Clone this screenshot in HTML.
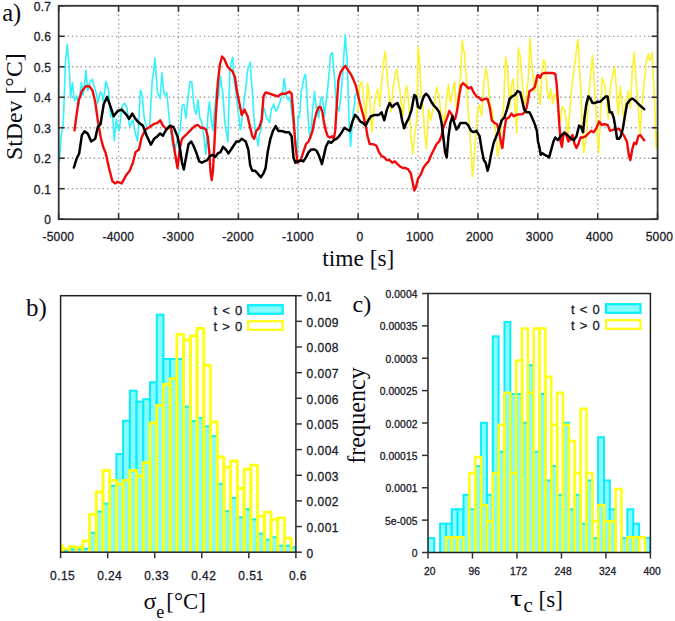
<!DOCTYPE html>
<html><head><meta charset="utf-8"><style>
html,body{margin:0;padding:0;background:#fff;}
body{width:675px;height:621px;overflow:hidden;}
svg{display:block;}
</style></head><body>
<svg width="675" height="621" viewBox="0 0 675 621">
<rect width="675" height="621" fill="#fff"/>
<line x1="118.59" y1="5.80" x2="118.59" y2="219.20" stroke="#969696" stroke-width="1.3" stroke-dasharray="1.3 3.1"/>
<line x1="178.48" y1="5.80" x2="178.48" y2="219.20" stroke="#969696" stroke-width="1.3" stroke-dasharray="1.3 3.1"/>
<line x1="238.37" y1="5.80" x2="238.37" y2="219.20" stroke="#969696" stroke-width="1.3" stroke-dasharray="1.3 3.1"/>
<line x1="298.26" y1="5.80" x2="298.26" y2="219.20" stroke="#969696" stroke-width="1.3" stroke-dasharray="1.3 3.1"/>
<line x1="358.15" y1="5.80" x2="358.15" y2="219.20" stroke="#969696" stroke-width="1.3" stroke-dasharray="1.3 3.1"/>
<line x1="418.04" y1="5.80" x2="418.04" y2="219.20" stroke="#969696" stroke-width="1.3" stroke-dasharray="1.3 3.1"/>
<line x1="477.93" y1="5.80" x2="477.93" y2="219.20" stroke="#969696" stroke-width="1.3" stroke-dasharray="1.3 3.1"/>
<line x1="537.82" y1="5.80" x2="537.82" y2="219.20" stroke="#969696" stroke-width="1.3" stroke-dasharray="1.3 3.1"/>
<line x1="597.71" y1="5.80" x2="597.71" y2="219.20" stroke="#969696" stroke-width="1.3" stroke-dasharray="1.3 3.1"/>
<line x1="58.70" y1="188.71" x2="657.60" y2="188.71" stroke="#969696" stroke-width="1.3" stroke-dasharray="1.3 3.1"/>
<line x1="58.70" y1="158.23" x2="657.60" y2="158.23" stroke="#969696" stroke-width="1.3" stroke-dasharray="1.3 3.1"/>
<line x1="58.70" y1="127.74" x2="657.60" y2="127.74" stroke="#969696" stroke-width="1.3" stroke-dasharray="1.3 3.1"/>
<line x1="58.70" y1="97.26" x2="657.60" y2="97.26" stroke="#969696" stroke-width="1.3" stroke-dasharray="1.3 3.1"/>
<line x1="58.70" y1="66.77" x2="657.60" y2="66.77" stroke="#969696" stroke-width="1.3" stroke-dasharray="1.3 3.1"/>
<line x1="58.70" y1="36.29" x2="657.60" y2="36.29" stroke="#969696" stroke-width="1.3" stroke-dasharray="1.3 3.1"/>
<clipPath id="ca"><rect x="58.7" y="5.8" width="598.9" height="213.39999999999998"/></clipPath>
<g clip-path="url(#ca)">
<polyline points="58.0,158.5 59.3,161.6 60.3,149.3 61.2,135.1 62.2,129.5 63.3,122.7 64.4,93.1 65.4,63.1 66.4,52.4 67.3,44.4 68.2,57.0 69.1,64.2 70.7,97.5 71.7,87.5 72.6,82.9 73.5,93.4 74.5,100.5 75.5,99.7 76.6,95.5 77.6,98.3 78.7,104.9 80.0,93.9 81.4,82.4 82.3,87.9 83.2,95.1 84.5,84.1 85.9,70.4 86.8,80.5 87.7,90.8 88.8,87.1 89.9,81.9 91.2,80.6 92.5,79.2 93.8,85.6 95.2,90.1 96.5,94.3 97.8,103.2 99.1,96.6 100.5,91.7 101.8,93.7 103.1,101.2 104.5,92.6 105.8,81.4 107.1,85.0 108.4,89.4 109.5,102.6 110.6,116.9 111.5,112.0 112.4,111.1 113.3,126.3 114.3,140.6 115.3,129.9 116.4,119.3 117.7,125.8 119.1,130.9 120.4,120.6 121.7,107.6 123.0,104.5 124.4,103.0 125.7,105.3 127.0,108.2 128.3,117.8 129.7,126.5 130.7,124.6 131.8,121.5 132.9,120.0 133.9,125.6 135.0,132.1 136.3,136.3 137.6,141.0 139.0,116.9 140.3,90.3 141.4,92.4 142.4,97.3 143.3,109.1 144.3,118.0 145.6,123.8 146.9,129.4 148.3,128.2 149.6,127.7 150.9,104.2 152.2,80.6 153.6,71.4 154.9,58.0 156.2,75.2 157.5,93.0 158.9,95.4 160.2,98.8 161.1,84.7 162.1,72.7 163.1,86.4 164.2,94.2 165.5,95.0 166.8,92.5 168.2,107.4 169.5,121.3 170.8,132.2 172.1,141.6 173.5,147.1 174.8,151.8 175.9,144.9 176.9,143.1 178.0,136.5 179.1,132.2 180.1,130.9 181.1,118.9 182.0,106.4 182.9,105.0 183.8,104.5 184.9,111.5 186.0,118.1 187.0,108.1 188.1,96.9 189.0,89.9 189.9,81.7 190.9,82.1 191.8,82.0 192.9,93.7 193.9,105.6 195.0,111.0 196.1,113.9 197.0,108.5 197.9,99.8 198.8,107.8 199.8,118.1 200.8,119.4 201.9,124.0 203.0,129.8 204.0,137.1 204.9,147.4 205.9,154.1 206.8,135.6 207.7,118.8 209.3,101.8 210.3,109.5 211.2,119.3 212.1,126.5 213.0,130.7 214.6,108.9 215.6,100.2 216.5,89.0 217.4,94.5 218.4,98.7 219.4,87.0 220.5,76.1 221.5,86.2 222.6,91.1 223.5,103.0 224.5,118.1 225.4,127.0 226.3,131.4 227.9,142.0 228.8,106.8 229.8,73.4 231.1,63.0 232.7,57.4 234.3,81.2 235.3,88.6 236.4,95.1 237.5,106.4 238.5,113.6 239.5,121.7 240.4,129.7 241.3,124.9 242.2,117.1 243.3,108.6 244.4,98.2 245.4,91.6 246.5,81.2 247.4,72.9 248.3,66.6 249.3,65.5 250.2,62.3 251.3,78.7 252.3,90.2 253.3,107.6 254.2,121.3 255.2,129.2 256.3,137.8 257.2,139.3 258.2,145.8 259.2,135.5 260.3,132.3 261.4,124.9 262.4,115.3 263.3,109.5 264.3,108.6 265.6,114.4 266.9,118.5 268.3,120.3 269.6,122.4 270.5,115.6 271.4,108.3 272.5,107.8 273.6,104.0 274.6,107.0 275.7,110.6 277.0,110.4 278.3,106.1 279.7,103.0 281.0,98.3 282.1,94.5 283.1,88.4 284.2,78.3 285.5,88.4 286.8,98.3 288.2,99.8 289.5,97.6 290.6,103.6 291.6,111.0 292.9,121.0 294.3,129.7 295.3,139.0 296.4,145.2 297.5,156.5 298.0,115.8 299.3,117.5 300.3,106.5 301.2,89.9 302.2,88.1 303.3,81.3 304.4,76.3 305.4,74.3 306.4,85.8 307.3,102.8 308.2,116.7 309.1,132.4 310.7,138.3 311.7,123.5 312.6,108.7 313.5,102.0 314.5,91.5 315.5,101.0 316.6,108.7 317.6,110.7 318.7,117.8 319.6,107.9 320.6,99.6 321.5,97.1 322.4,98.0 323.5,106.9 324.5,116.4 325.6,105.0 326.7,96.9 327.6,89.6 328.5,79.9 329.5,68.8 330.4,55.3 331.4,53.4 332.5,52.9 333.6,67.6 334.6,78.1 335.6,94.3 336.5,106.8 337.8,107.3 339.1,110.9 340.5,99.1 341.8,83.6 342.7,73.2 343.7,57.4 345.3,34.9 346.2,49.6 347.1,57.2 348.0,87.3 349.0,119.8 350.6,146.5 351.5,133.2 352.4,121.4 353.3,112.5 354.3,105.4 355.3,95.9 356.4,92.9 357.5,94.5 358.5,99.0" fill="none" stroke="#30f2fc" stroke-width="1.6" stroke-linejoin="round" stroke-linecap="round"/>
<polyline points="357.7,111.6 358.7,101.0 359.6,86.5 360.6,82.6 361.7,81.9 362.8,90.8 363.8,99.8 364.8,108.8 365.7,120.7 366.6,102.1 367.6,83.4 368.6,89.6 369.7,98.7 370.7,114.5 371.8,131.9 372.7,122.4 373.7,111.6 374.6,103.2 375.5,96.1 376.6,92.7 377.6,89.0 378.7,96.9 379.8,106.8 380.7,94.2 381.6,82.6 382.6,74.2 383.5,62.0 385.1,51.5 386.0,60.7 386.9,70.4 387.9,83.7 388.8,94.8 389.9,103.0 390.9,111.8 392.0,99.8 393.0,87.0 394.0,83.5 394.9,76.4 395.8,72.2 396.8,69.0 397.8,76.3 398.9,84.4 399.9,90.4 401.0,101.1 401.9,110.3 402.9,116.1 403.8,106.8 404.7,94.7 405.8,89.6 406.8,85.9 407.9,95.0 409.0,106.2 409.9,120.3 410.8,137.6 411.8,143.5 412.7,153.8 413.7,144.6 414.8,133.4 415.9,125.9 416.9,119.5 418.0,46.9 419.3,56.5 420.3,75.2 421.2,95.6 422.8,107.9 423.7,118.8 424.6,135.3 425.6,139.1 426.5,148.6 427.6,126.1 428.6,109.0 429.7,114.5 430.7,120.3 431.7,115.0 432.6,110.3 433.5,108.7 434.5,106.2 435.5,95.7 436.6,87.1 437.6,92.3 438.7,94.3 439.6,99.8 440.6,111.0 441.5,113.3 442.4,116.7 443.5,117.6 444.5,124.0 445.6,107.7 446.7,97.0 447.6,90.1 448.5,84.5 449.5,96.7 450.4,102.6 451.4,97.8 452.5,92.6 453.6,86.0 454.6,81.8 455.6,98.0 456.5,109.3 457.4,104.0 458.4,94.3 459.4,86.5 460.5,76.3 461.4,60.6 462.3,40.1 463.4,49.9 464.5,51.8 465.4,66.8 466.3,75.7 467.9,105.9 468.8,120.3 469.8,129.4 471.1,150.7 472.4,176.8 473.3,167.5 474.3,158.1 475.9,133.0 476.8,120.1 477.7,110.3 478.7,107.6 479.6,104.8 480.6,112.0 481.7,115.9 482.8,101.0 483.8,83.7 484.8,76.2 485.7,68.3 486.6,72.2 487.6,76.9 488.6,88.2 489.7,100.6 490.7,105.2 491.8,109.5 492.7,115.1 493.7,123.6 494.6,126.1 495.5,129.1 496.6,142.6 497.6,156.4 498.7,149.1 499.8,147.2 500.7,134.4 501.6,123.0 502.6,113.4 503.5,109.0 504.5,80.7 505.6,57.0 506.7,64.2 507.7,70.4 508.7,91.3 509.6,108.1 510.5,97.1 511.4,86.3 513.0,78.9 514.0,90.6 514.9,104.9 515.8,117.6 516.8,133.0 518.3,47.8 519.3,53.4 520.2,55.4 521.1,68.2 522.1,79.3 523.1,92.8 524.2,104.9 525.2,101.7 526.3,97.3 527.2,87.3 528.2,80.1 529.1,60.6 530.0,38.4 531.1,51.8 532.1,66.8 533.2,77.4 534.3,92.0 535.2,83.3 536.1,76.0 537.1,83.0 538.0,89.9 539.1,96.4 540.1,104.4 541.1,88.2 542.0,71.6 543.3,59.8 544.4,60.6 545.4,66.3 546.4,79.8 547.3,92.1 548.2,94.7 549.1,99.1 550.7,88.8 551.7,94.4 552.6,104.0 553.5,100.5 554.5,95.0 555.5,94.6 556.6,97.7 557.6,105.1 558.7,115.0 559.6,119.5 560.6,120.7 561.5,111.4 562.4,106.5 564.0,109.1 564.9,111.5 565.9,118.4 566.8,126.5 567.7,138.0 568.8,125.7 569.9,110.4 570.9,95.6 572.0,85.5 572.9,78.7 573.8,72.4 574.8,63.2 575.7,56.9 576.8,46.7 577.8,39.7 578.9,56.0 579.9,74.4 580.9,91.8 581.8,116.1 582.7,132.2 583.7,152.4 584.7,146.3 585.8,141.3 586.8,126.7 587.9,109.2 588.8,96.0 589.8,84.1 591.1,68.0 592.4,55.4 593.3,66.5 594.3,79.8 595.3,99.9 596.4,118.2 597.5,136.9 598.5,153.3 599.5,135.8 600.4,117.6 601.3,97.1 602.2,77.6 603.3,81.8 604.4,82.1 605.4,91.2 606.5,98.9 607.4,110.3 608.3,118.9 609.3,104.9 610.2,89.9 611.3,82.2 612.3,76.6 613.4,72.4 614.5,66.1 615.4,76.1 616.3,86.5 617.2,102.2 618.2,115.3 619.2,103.1 620.3,86.6 621.4,97.1 622.4,109.2 623.3,113.4 624.3,122.5 625.2,110.4 626.1,99.9 627.2,96.8 628.3,90.6 629.3,99.7 630.4,108.0 631.3,90.2 632.2,71.3 633.2,62.6 634.1,52.0 635.2,66.9 636.2,83.2 637.3,94.7 638.3,109.8 639.3,123.6 640.2,134.7 641.1,117.2 642.1,104.4 643.1,94.7 644.2,82.0 645.2,74.2 646.3,61.7 647.2,58.8 648.2,53.5 649.1,58.7 650.0,60.4 651.1,56.9 652.1,52.3 653.2,74.9 654.3,94.3 655.2,122.0 656.1,148.5 657.1,134.8 658.0,125.6" fill="none" stroke="#fcf230" stroke-width="1.6" stroke-linejoin="round" stroke-linecap="round"/>
<polyline points="74.5,130.3 76.6,114.9 78.7,100.3 81.9,91.1 85.9,86.3 89.3,86.3 92.5,90.5 95.2,101.7 97.8,120.3 100.5,136.2 103.1,146.8 105.8,153.4 109.0,168.0 112.4,181.3 115.1,183.4 117.7,181.8 121.7,183.4 126.5,174.7 129.7,170.7 132.9,162.7 135.5,152.1 139.0,149.5 141.6,137.5 145.6,129.5 149.6,126.9 153.6,124.2 157.5,122.9 160.2,120.3 162.9,125.6 166.8,129.5 170.8,125.6 174.8,152.1 177.5,168.0 180.1,146.8 182.0,138.8 184.6,136.2 187.3,133.5 189.9,130.9 192.6,128.2 195.3,125.6 197.9,125.0 200.6,127.7 203.2,127.7 205.9,129.5 207.7,136.2 209.3,152.1 210.4,170.7 211.7,180.0 213.0,170.7 214.4,144.1 215.7,117.6 217.8,83.1 219.9,64.5 222.1,56.5 224.5,59.2 227.1,65.8 229.8,69.3 232.4,71.1 235.1,77.8 236.9,91.1 239.6,104.3 241.7,114.9 244.4,109.6 247.6,116.3 249.7,125.6 252.3,136.2 254.2,138.8 256.3,130.9 259.0,128.2 261.6,120.3 263.5,96.4 265.6,92.4 269.6,93.7 273.6,95.0 277.5,96.4 281.5,93.7 285.5,93.7 289.5,91.6 291.6,93.7 293.5,117.6 295.3,144.1 297.5,162.7 298.0,162.7 300.7,160.1 303.3,152.1 306.0,144.1 308.6,141.5 310.7,136.2 312.6,130.9 314.5,120.3 316.6,112.3 318.7,107.0 320.6,107.0 322.4,112.3 324.0,122.9 325.9,130.9 327.7,136.2 329.9,137.5 332.0,136.2 333.8,138.8 335.2,130.9 336.5,109.6 338.4,80.4 340.5,72.5 343.1,68.5 345.3,65.8 347.9,69.8 350.6,73.8 353.2,79.1 355.9,85.7 357.7,93.7 359.6,101.7 361.7,109.6 363.8,117.6 365.7,125.6 367.6,136.2 369.7,144.1 372.9,144.1 376.3,145.5 379.0,152.1 381.6,156.1 384.3,157.4 386.9,160.1 389.6,160.1 392.2,162.7 394.9,161.4 397.5,164.1 400.2,166.7 402.9,168.0 405.5,168.0 408.2,169.4 410.8,173.4 412.7,182.6 414.3,190.6 416.1,186.6 418.0,178.7 420.7,174.7 423.3,168.0 426.0,164.1 428.6,161.4 431.3,154.8 433.9,149.5 436.6,144.1 439.2,141.5 441.4,136.2 443.2,128.2 445.1,122.9 447.2,117.6 449.3,111.0 451.2,113.6 453.0,117.6 455.2,118.9 457.3,109.6 459.1,96.4 461.0,85.7 463.1,83.1 465.8,85.7 468.4,88.4 471.1,87.1 473.7,92.4 476.4,96.4 479.1,97.7 481.7,100.3 484.4,99.0 487.6,99.0 489.7,107.0 491.8,120.3 494.5,122.9 497.1,124.2 499.0,130.9 500.8,141.5 502.4,148.1 504.3,130.9 506.1,118.9 508.8,117.6 511.4,113.6 513.6,116.3 516.2,114.9 518.9,114.4 522.1,114.4 524.7,112.3 526.8,107.0 529.5,91.1 532.1,89.7 534.8,87.1 537.5,75.1 538.0,75.1 540.1,77.8 542.0,73.8 544.6,73.0 548.6,73.0 552.6,73.0 555.3,73.8 556.6,83.1 557.9,101.7 559.2,122.9 560.6,141.5 561.9,146.8 563.2,136.2 564.5,132.2 566.7,136.2 568.5,141.5 570.4,138.8 572.5,134.9 574.6,144.1 576.5,148.1 578.4,144.1 580.5,137.5 583.1,137.5 585.8,136.2 588.4,133.5 591.1,130.9 593.7,132.2 596.4,128.2 599.1,121.6 601.7,125.0 604.4,124.2 607.6,125.0 610.2,130.9 613.7,129.5 616.3,129.5 619.0,128.8 621.6,132.2 624.3,136.2 626.9,141.5 628.8,154.8 630.4,160.1 632.2,149.5 634.1,142.8 636.2,144.1 638.3,136.2 640.2,134.9 642.1,137.5 644.2,140.2" fill="none" stroke="#f20a0a" stroke-width="2.4" stroke-linejoin="round" stroke-linecap="round"/>
<polyline points="73.9,167.5 76.6,158.7 79.2,153.4 81.9,134.9 84.5,131.4 87.7,133.5 91.2,141.5 95.2,138.8 97.8,126.9 100.5,124.2 103.7,104.3 107.1,96.9 110.6,107.0 113.7,116.3 117.7,111.0 121.7,109.6 126.5,114.9 129.1,118.9 132.3,113.6 135.5,118.9 139.0,122.9 142.9,125.6 146.9,136.2 150.9,144.7 154.1,138.8 157.5,136.2 160.2,133.5 162.9,135.7 166.3,129.5 169.5,126.1 173.5,126.9 177.5,136.2 180.1,149.5 182.0,162.7 183.8,169.4 186.0,157.4 188.6,144.1 191.3,141.5 193.9,146.8 196.6,153.4 199.2,161.4 201.9,162.7 204.5,161.4 207.2,160.1 209.9,156.1 212.5,154.8 215.2,156.9 217.8,153.4 220.5,152.1 223.1,146.8 225.8,149.5 228.4,153.4 231.1,149.5 233.7,145.5 236.4,141.5 239.1,141.5 241.7,138.8 245.7,141.5 248.3,149.5 250.2,165.4 252.3,170.7 255.0,170.7 257.6,173.4 260.8,177.3 263.5,173.4 265.6,168.0 267.7,152.1 270.4,138.8 273.0,130.9 275.7,126.1 278.3,130.9 281.5,130.9 285.5,132.2 289.0,132.2 291.6,136.2 293.5,157.4 295.3,162.7 297.5,161.4 298.0,161.4 300.7,160.1 303.3,161.4 306.0,157.4 308.6,152.1 311.3,149.5 314.5,149.5 316.6,150.8 318.7,154.8 320.6,160.1 321.9,164.1 323.5,157.4 325.9,146.8 328.5,141.5 331.2,142.8 333.8,140.2 336.5,138.8 339.1,136.2 341.8,132.2 344.5,127.7 347.1,129.5 349.8,130.9 352.4,121.6 355.1,114.9 357.7,117.6 360.4,121.6 363.0,122.9 365.7,125.6 368.3,120.3 371.0,116.3 375.0,114.9 379.0,114.9 381.6,112.3 384.3,120.3 386.9,109.6 389.6,103.0 392.2,107.0 394.9,104.3 397.5,103.0 400.2,109.6 402.1,120.3 404.2,128.2 406.3,122.9 409.0,117.6 411.6,109.6 414.3,95.0 416.1,96.4 418.0,107.0 420.1,108.3 422.0,101.7 423.8,96.4 426.0,93.7 428.6,96.4 431.3,101.7 433.9,105.7 436.6,108.3 439.2,112.3 441.4,121.6 443.2,136.2 445.1,152.1 446.7,157.4 448.5,136.2 450.4,122.9 452.5,116.3 454.6,124.2 456.5,129.5 458.4,126.9 460.5,122.9 463.1,122.9 465.8,122.9 468.4,125.6 471.1,130.9 473.7,132.2 476.4,130.9 479.6,136.2 481.7,149.5 483.8,160.1 485.7,162.7 487.6,170.7 489.1,165.4 491.0,154.8 493.7,142.8 496.3,136.2 499.0,129.5 501.6,120.3 504.3,117.6 506.9,109.6 509.6,99.0 512.2,96.4 514.9,95.0 517.5,91.1 520.2,92.4 522.1,100.3 524.2,109.6 526.8,112.3 529.5,112.3 532.1,117.6 534.8,124.2 536.9,130.9 538.0,141.5 539.3,146.8 540.7,154.8 542.8,153.4 544.6,154.8 547.3,156.1 549.1,157.4 551.3,149.5 553.4,141.5 555.3,137.5 557.9,140.2 560.6,136.2 563.2,133.5 565.9,133.5 568.5,136.2 571.2,138.8 573.8,140.2 576.5,136.2 579.1,125.6 581.0,126.9 583.1,132.2 584.5,117.6 586.3,104.3 588.4,96.4 590.6,99.0 592.4,103.0 595.1,103.0 597.7,101.7 600.4,101.7 603.0,99.0 605.7,96.4 607.6,96.4 609.7,112.3 611.8,112.3 613.7,117.6 615.5,128.2 617.1,138.8 619.0,138.8 620.8,136.2 622.9,128.2 625.1,114.9 626.9,104.3 629.6,100.3 632.2,98.5 634.9,100.3 637.5,103.0 640.2,105.7 644.2,109.1" fill="none" stroke="#000000" stroke-width="2.5" stroke-linejoin="round" stroke-linecap="round"/>
</g>
<line x1="58.70" y1="219.20" x2="58.70" y2="213.20" stroke="#333" stroke-width="1.6"/>
<line x1="58.70" y1="5.80" x2="58.70" y2="11.80" stroke="#333" stroke-width="1.6"/>
<line x1="118.59" y1="219.20" x2="118.59" y2="213.20" stroke="#333" stroke-width="1.6"/>
<line x1="118.59" y1="5.80" x2="118.59" y2="11.80" stroke="#333" stroke-width="1.6"/>
<line x1="178.48" y1="219.20" x2="178.48" y2="213.20" stroke="#333" stroke-width="1.6"/>
<line x1="178.48" y1="5.80" x2="178.48" y2="11.80" stroke="#333" stroke-width="1.6"/>
<line x1="238.37" y1="219.20" x2="238.37" y2="213.20" stroke="#333" stroke-width="1.6"/>
<line x1="238.37" y1="5.80" x2="238.37" y2="11.80" stroke="#333" stroke-width="1.6"/>
<line x1="298.26" y1="219.20" x2="298.26" y2="213.20" stroke="#333" stroke-width="1.6"/>
<line x1="298.26" y1="5.80" x2="298.26" y2="11.80" stroke="#333" stroke-width="1.6"/>
<line x1="358.15" y1="219.20" x2="358.15" y2="213.20" stroke="#333" stroke-width="1.6"/>
<line x1="358.15" y1="5.80" x2="358.15" y2="11.80" stroke="#333" stroke-width="1.6"/>
<line x1="418.04" y1="219.20" x2="418.04" y2="213.20" stroke="#333" stroke-width="1.6"/>
<line x1="418.04" y1="5.80" x2="418.04" y2="11.80" stroke="#333" stroke-width="1.6"/>
<line x1="477.93" y1="219.20" x2="477.93" y2="213.20" stroke="#333" stroke-width="1.6"/>
<line x1="477.93" y1="5.80" x2="477.93" y2="11.80" stroke="#333" stroke-width="1.6"/>
<line x1="537.82" y1="219.20" x2="537.82" y2="213.20" stroke="#333" stroke-width="1.6"/>
<line x1="537.82" y1="5.80" x2="537.82" y2="11.80" stroke="#333" stroke-width="1.6"/>
<line x1="597.71" y1="219.20" x2="597.71" y2="213.20" stroke="#333" stroke-width="1.6"/>
<line x1="597.71" y1="5.80" x2="597.71" y2="11.80" stroke="#333" stroke-width="1.6"/>
<line x1="657.60" y1="219.20" x2="657.60" y2="213.20" stroke="#333" stroke-width="1.6"/>
<line x1="657.60" y1="5.80" x2="657.60" y2="11.80" stroke="#333" stroke-width="1.6"/>
<line x1="58.70" y1="219.20" x2="64.70" y2="219.20" stroke="#333" stroke-width="1.6"/>
<line x1="657.60" y1="219.20" x2="651.60" y2="219.20" stroke="#333" stroke-width="1.6"/>
<line x1="58.70" y1="188.71" x2="64.70" y2="188.71" stroke="#333" stroke-width="1.6"/>
<line x1="657.60" y1="188.71" x2="651.60" y2="188.71" stroke="#333" stroke-width="1.6"/>
<line x1="58.70" y1="158.23" x2="64.70" y2="158.23" stroke="#333" stroke-width="1.6"/>
<line x1="657.60" y1="158.23" x2="651.60" y2="158.23" stroke="#333" stroke-width="1.6"/>
<line x1="58.70" y1="127.74" x2="64.70" y2="127.74" stroke="#333" stroke-width="1.6"/>
<line x1="657.60" y1="127.74" x2="651.60" y2="127.74" stroke="#333" stroke-width="1.6"/>
<line x1="58.70" y1="97.26" x2="64.70" y2="97.26" stroke="#333" stroke-width="1.6"/>
<line x1="657.60" y1="97.26" x2="651.60" y2="97.26" stroke="#333" stroke-width="1.6"/>
<line x1="58.70" y1="66.77" x2="64.70" y2="66.77" stroke="#333" stroke-width="1.6"/>
<line x1="657.60" y1="66.77" x2="651.60" y2="66.77" stroke="#333" stroke-width="1.6"/>
<line x1="58.70" y1="36.29" x2="64.70" y2="36.29" stroke="#333" stroke-width="1.6"/>
<line x1="657.60" y1="36.29" x2="651.60" y2="36.29" stroke="#333" stroke-width="1.6"/>
<line x1="58.70" y1="5.80" x2="64.70" y2="5.80" stroke="#333" stroke-width="1.6"/>
<line x1="657.60" y1="5.80" x2="651.60" y2="5.80" stroke="#333" stroke-width="1.6"/>
<rect x="58.70" y="5.80" width="598.90" height="213.40" fill="none" stroke="#333" stroke-width="1.8"/>
<text x="51.3" y="224.20" text-anchor="end" fill="#1a1a2a" stroke="#1a1a2a" stroke-width="0.3" font-family='"Liberation Sans", sans-serif' font-size="12" letter-spacing="0.3">0</text>
<text x="51.3" y="193.71" text-anchor="end" fill="#1a1a2a" stroke="#1a1a2a" stroke-width="0.3" font-family='"Liberation Sans", sans-serif' font-size="12" letter-spacing="0.3">0.1</text>
<text x="51.3" y="163.23" text-anchor="end" fill="#1a1a2a" stroke="#1a1a2a" stroke-width="0.3" font-family='"Liberation Sans", sans-serif' font-size="12" letter-spacing="0.3">0.2</text>
<text x="51.3" y="132.74" text-anchor="end" fill="#1a1a2a" stroke="#1a1a2a" stroke-width="0.3" font-family='"Liberation Sans", sans-serif' font-size="12" letter-spacing="0.3">0.3</text>
<text x="51.3" y="102.26" text-anchor="end" fill="#1a1a2a" stroke="#1a1a2a" stroke-width="0.3" font-family='"Liberation Sans", sans-serif' font-size="12" letter-spacing="0.3">0.4</text>
<text x="51.3" y="71.77" text-anchor="end" fill="#1a1a2a" stroke="#1a1a2a" stroke-width="0.3" font-family='"Liberation Sans", sans-serif' font-size="12" letter-spacing="0.3">0.5</text>
<text x="51.3" y="41.29" text-anchor="end" fill="#1a1a2a" stroke="#1a1a2a" stroke-width="0.3" font-family='"Liberation Sans", sans-serif' font-size="12" letter-spacing="0.3">0.6</text>
<text x="51.3" y="10.80" text-anchor="end" fill="#1a1a2a" stroke="#1a1a2a" stroke-width="0.3" font-family='"Liberation Sans", sans-serif' font-size="12" letter-spacing="0.3">0.7</text>
<text x="58.40" y="241.4" text-anchor="middle" fill="#1a1a2a" stroke="#1a1a2a" stroke-width="0.3" font-family='"Liberation Sans", sans-serif' font-size="12" letter-spacing="0.2">-5000</text>
<text x="118.29" y="241.4" text-anchor="middle" fill="#1a1a2a" stroke="#1a1a2a" stroke-width="0.3" font-family='"Liberation Sans", sans-serif' font-size="12" letter-spacing="0.2">-4000</text>
<text x="178.18" y="241.4" text-anchor="middle" fill="#1a1a2a" stroke="#1a1a2a" stroke-width="0.3" font-family='"Liberation Sans", sans-serif' font-size="12" letter-spacing="0.2">-3000</text>
<text x="238.07" y="241.4" text-anchor="middle" fill="#1a1a2a" stroke="#1a1a2a" stroke-width="0.3" font-family='"Liberation Sans", sans-serif' font-size="12" letter-spacing="0.2">-2000</text>
<text x="297.96" y="241.4" text-anchor="middle" fill="#1a1a2a" stroke="#1a1a2a" stroke-width="0.3" font-family='"Liberation Sans", sans-serif' font-size="12" letter-spacing="0.2">-1000</text>
<text x="359.95" y="241.4" text-anchor="middle" fill="#1a1a2a" stroke="#1a1a2a" stroke-width="0.3" font-family='"Liberation Sans", sans-serif' font-size="12" letter-spacing="0.2">0</text>
<text x="419.84" y="241.4" text-anchor="middle" fill="#1a1a2a" stroke="#1a1a2a" stroke-width="0.3" font-family='"Liberation Sans", sans-serif' font-size="12" letter-spacing="0.2">1000</text>
<text x="479.73" y="241.4" text-anchor="middle" fill="#1a1a2a" stroke="#1a1a2a" stroke-width="0.3" font-family='"Liberation Sans", sans-serif' font-size="12" letter-spacing="0.2">2000</text>
<text x="539.62" y="241.4" text-anchor="middle" fill="#1a1a2a" stroke="#1a1a2a" stroke-width="0.3" font-family='"Liberation Sans", sans-serif' font-size="12" letter-spacing="0.2">3000</text>
<text x="599.51" y="241.4" text-anchor="middle" fill="#1a1a2a" stroke="#1a1a2a" stroke-width="0.3" font-family='"Liberation Sans", sans-serif' font-size="12" letter-spacing="0.2">4000</text>
<text x="659.40" y="241.4" text-anchor="middle" fill="#1a1a2a" stroke="#1a1a2a" stroke-width="0.3" font-family='"Liberation Sans", sans-serif' font-size="12" letter-spacing="0.2">5000</text>
<text x="2.2" y="21.2" fill="#0a0a14" font-family='"Liberation Serif", serif' font-size="24.5">a)</text>
<text x="322.3" y="266.3" fill="#0a0a14" font-family='"Liberation Serif", serif' font-size="23.4">time [s]</text>
<text transform="translate(21.8,160.0) rotate(-90)" fill="#0a0a14" font-family='"Liberation Serif", serif' font-size="23.8">StDev [°C]</text>
<clipPath id="cb"><rect x="60.6" y="292.7" width="235.29999999999998" height="259.50000000000006"/></clipPath>
<g clip-path="url(#cb)">
<rect x="60.60" y="551.00" width="2.02" height="3.20" fill="#88fbff" stroke="#08eefc" stroke-width="2"/>
<rect x="62.62" y="550.80" width="6.72" height="3.40" fill="#88fbff" stroke="#08eefc" stroke-width="2"/>
<rect x="69.34" y="549.30" width="6.72" height="4.90" fill="#88fbff" stroke="#08eefc" stroke-width="2"/>
<rect x="76.06" y="549.00" width="6.72" height="5.20" fill="#88fbff" stroke="#08eefc" stroke-width="2"/>
<rect x="82.79" y="548.70" width="6.72" height="5.50" fill="#88fbff" stroke="#08eefc" stroke-width="2"/>
<rect x="89.51" y="532.70" width="6.72" height="21.50" fill="#88fbff" stroke="#08eefc" stroke-width="2"/>
<rect x="96.23" y="511.60" width="6.72" height="42.60" fill="#88fbff" stroke="#08eefc" stroke-width="2"/>
<rect x="102.95" y="503.60" width="6.72" height="50.60" fill="#88fbff" stroke="#08eefc" stroke-width="2"/>
<rect x="109.68" y="485.80" width="6.72" height="68.40" fill="#88fbff" stroke="#08eefc" stroke-width="2"/>
<rect x="116.40" y="454.00" width="6.72" height="100.20" fill="#88fbff" stroke="#08eefc" stroke-width="2"/>
<rect x="123.12" y="420.70" width="6.72" height="133.50" fill="#88fbff" stroke="#08eefc" stroke-width="2"/>
<rect x="129.85" y="390.70" width="6.72" height="163.50" fill="#88fbff" stroke="#08eefc" stroke-width="2"/>
<rect x="136.57" y="401.60" width="6.72" height="152.60" fill="#88fbff" stroke="#08eefc" stroke-width="2"/>
<rect x="143.29" y="399.20" width="6.72" height="155.00" fill="#88fbff" stroke="#08eefc" stroke-width="2"/>
<rect x="150.01" y="382.30" width="6.72" height="171.90" fill="#88fbff" stroke="#08eefc" stroke-width="2"/>
<rect x="156.74" y="314.70" width="6.72" height="239.50" fill="#88fbff" stroke="#08eefc" stroke-width="2"/>
<rect x="163.46" y="359.00" width="6.72" height="195.20" fill="#88fbff" stroke="#08eefc" stroke-width="2"/>
<rect x="170.18" y="359.00" width="6.72" height="195.20" fill="#88fbff" stroke="#08eefc" stroke-width="2"/>
<rect x="176.91" y="359.00" width="6.72" height="195.20" fill="#88fbff" stroke="#08eefc" stroke-width="2"/>
<rect x="183.63" y="406.60" width="6.72" height="147.60" fill="#88fbff" stroke="#08eefc" stroke-width="2"/>
<rect x="190.35" y="421.00" width="6.72" height="133.20" fill="#88fbff" stroke="#08eefc" stroke-width="2"/>
<rect x="197.07" y="417.90" width="6.72" height="136.30" fill="#88fbff" stroke="#08eefc" stroke-width="2"/>
<rect x="203.80" y="426.30" width="6.72" height="127.90" fill="#88fbff" stroke="#08eefc" stroke-width="2"/>
<rect x="210.52" y="436.20" width="6.72" height="118.00" fill="#88fbff" stroke="#08eefc" stroke-width="2"/>
<rect x="217.24" y="483.80" width="6.72" height="70.40" fill="#88fbff" stroke="#08eefc" stroke-width="2"/>
<rect x="223.97" y="511.20" width="6.72" height="43.00" fill="#88fbff" stroke="#08eefc" stroke-width="2"/>
<rect x="230.69" y="498.00" width="6.72" height="56.20" fill="#88fbff" stroke="#08eefc" stroke-width="2"/>
<rect x="237.41" y="517.30" width="6.72" height="36.90" fill="#88fbff" stroke="#08eefc" stroke-width="2"/>
<rect x="244.13" y="509.20" width="6.72" height="45.00" fill="#88fbff" stroke="#08eefc" stroke-width="2"/>
<rect x="250.86" y="519.30" width="6.72" height="34.90" fill="#88fbff" stroke="#08eefc" stroke-width="2"/>
<rect x="257.58" y="533.60" width="6.72" height="20.60" fill="#88fbff" stroke="#08eefc" stroke-width="2"/>
<rect x="264.30" y="539.60" width="6.72" height="14.60" fill="#88fbff" stroke="#08eefc" stroke-width="2"/>
<rect x="271.03" y="537.20" width="6.72" height="17.00" fill="#88fbff" stroke="#08eefc" stroke-width="2"/>
<rect x="277.75" y="545.70" width="6.72" height="8.50" fill="#88fbff" stroke="#08eefc" stroke-width="2"/>
<rect x="284.47" y="545.70" width="6.72" height="8.50" fill="#88fbff" stroke="#08eefc" stroke-width="2"/>
<rect x="291.19" y="547.40" width="4.71" height="6.80" fill="#88fbff" stroke="#08eefc" stroke-width="2"/>
<rect x="60.60" y="545.60" width="2.02" height="9.60" fill="none" stroke="#ffff10" stroke-width="2.8" stroke-linejoin="round"/>
<rect x="62.62" y="548.80" width="6.72" height="6.40" fill="none" stroke="#ffff10" stroke-width="2.8" stroke-linejoin="round"/>
<rect x="69.34" y="546.70" width="6.72" height="8.50" fill="none" stroke="#ffff10" stroke-width="2.8" stroke-linejoin="round"/>
<rect x="76.06" y="547.30" width="6.72" height="7.90" fill="none" stroke="#ffff10" stroke-width="2.8" stroke-linejoin="round"/>
<rect x="82.79" y="540.80" width="6.72" height="14.40" fill="none" stroke="#ffff10" stroke-width="2.8" stroke-linejoin="round"/>
<rect x="89.51" y="514.50" width="6.72" height="40.70" fill="none" stroke="#ffff10" stroke-width="2.8" stroke-linejoin="round"/>
<rect x="96.23" y="491.80" width="6.72" height="63.40" fill="none" stroke="#ffff10" stroke-width="2.8" stroke-linejoin="round"/>
<rect x="102.95" y="470.30" width="6.72" height="84.90" fill="none" stroke="#ffff10" stroke-width="2.8" stroke-linejoin="round"/>
<rect x="109.68" y="480.30" width="6.72" height="74.90" fill="none" stroke="#ffff10" stroke-width="2.8" stroke-linejoin="round"/>
<rect x="116.40" y="484.00" width="6.72" height="71.20" fill="none" stroke="#ffff10" stroke-width="2.8" stroke-linejoin="round"/>
<rect x="123.12" y="480.30" width="6.72" height="74.90" fill="none" stroke="#ffff10" stroke-width="2.8" stroke-linejoin="round"/>
<rect x="129.85" y="470.50" width="6.72" height="84.70" fill="none" stroke="#ffff10" stroke-width="2.8" stroke-linejoin="round"/>
<rect x="136.57" y="476.10" width="6.72" height="79.10" fill="none" stroke="#ffff10" stroke-width="2.8" stroke-linejoin="round"/>
<rect x="143.29" y="462.50" width="6.72" height="92.70" fill="none" stroke="#ffff10" stroke-width="2.8" stroke-linejoin="round"/>
<rect x="150.01" y="423.00" width="6.72" height="132.20" fill="none" stroke="#ffff10" stroke-width="2.8" stroke-linejoin="round"/>
<rect x="156.74" y="405.40" width="6.72" height="149.80" fill="none" stroke="#ffff10" stroke-width="2.8" stroke-linejoin="round"/>
<rect x="163.46" y="384.30" width="6.72" height="170.90" fill="none" stroke="#ffff10" stroke-width="2.8" stroke-linejoin="round"/>
<rect x="170.18" y="378.70" width="6.72" height="176.50" fill="none" stroke="#ffff10" stroke-width="2.8" stroke-linejoin="round"/>
<rect x="176.91" y="334.40" width="6.72" height="220.80" fill="none" stroke="#ffff10" stroke-width="2.8" stroke-linejoin="round"/>
<rect x="183.63" y="340.00" width="6.72" height="215.20" fill="none" stroke="#ffff10" stroke-width="2.8" stroke-linejoin="round"/>
<rect x="190.35" y="335.90" width="6.72" height="219.30" fill="none" stroke="#ffff10" stroke-width="2.8" stroke-linejoin="round"/>
<rect x="197.07" y="328.40" width="6.72" height="226.80" fill="none" stroke="#ffff10" stroke-width="2.8" stroke-linejoin="round"/>
<rect x="203.80" y="365.40" width="6.72" height="189.80" fill="none" stroke="#ffff10" stroke-width="2.8" stroke-linejoin="round"/>
<rect x="210.52" y="422.00" width="6.72" height="133.20" fill="none" stroke="#ffff10" stroke-width="2.8" stroke-linejoin="round"/>
<rect x="217.24" y="457.00" width="6.72" height="98.20" fill="none" stroke="#ffff10" stroke-width="2.8" stroke-linejoin="round"/>
<rect x="223.97" y="467.10" width="6.72" height="88.10" fill="none" stroke="#ffff10" stroke-width="2.8" stroke-linejoin="round"/>
<rect x="230.69" y="461.00" width="6.72" height="94.20" fill="none" stroke="#ffff10" stroke-width="2.8" stroke-linejoin="round"/>
<rect x="237.41" y="488.50" width="6.72" height="66.70" fill="none" stroke="#ffff10" stroke-width="2.8" stroke-linejoin="round"/>
<rect x="244.13" y="469.20" width="6.72" height="86.00" fill="none" stroke="#ffff10" stroke-width="2.8" stroke-linejoin="round"/>
<rect x="250.86" y="465.10" width="6.72" height="90.10" fill="none" stroke="#ffff10" stroke-width="2.8" stroke-linejoin="round"/>
<rect x="257.58" y="516.30" width="6.72" height="38.90" fill="none" stroke="#ffff10" stroke-width="2.8" stroke-linejoin="round"/>
<rect x="264.30" y="512.20" width="6.72" height="43.00" fill="none" stroke="#ffff10" stroke-width="2.8" stroke-linejoin="round"/>
<rect x="271.03" y="519.30" width="6.72" height="35.90" fill="none" stroke="#ffff10" stroke-width="2.8" stroke-linejoin="round"/>
<rect x="277.75" y="517.90" width="6.72" height="37.30" fill="none" stroke="#ffff10" stroke-width="2.8" stroke-linejoin="round"/>
<rect x="284.47" y="538.20" width="6.72" height="17.00" fill="none" stroke="#ffff10" stroke-width="2.8" stroke-linejoin="round"/>
</g>
<rect x="60.6" y="295.7" width="235.30" height="256.50" fill="none" stroke="#222" stroke-width="1.5"/>
<line x1="295.9" y1="552.20" x2="301.9" y2="552.20" stroke="#333" stroke-width="1.5"/>
<text x="306.5" y="557.50" fill="#1a1a2a" stroke="#1a1a2a" stroke-width="0.3" font-family='"Liberation Sans", sans-serif' font-size="12" letter-spacing="0.5">0</text>
<line x1="295.9" y1="526.55" x2="301.9" y2="526.55" stroke="#333" stroke-width="1.5"/>
<text x="306.5" y="531.85" fill="#1a1a2a" stroke="#1a1a2a" stroke-width="0.3" font-family='"Liberation Sans", sans-serif' font-size="12" letter-spacing="0.5">0.001</text>
<line x1="295.9" y1="500.90" x2="301.9" y2="500.90" stroke="#333" stroke-width="1.5"/>
<text x="306.5" y="506.20" fill="#1a1a2a" stroke="#1a1a2a" stroke-width="0.3" font-family='"Liberation Sans", sans-serif' font-size="12" letter-spacing="0.5">0.002</text>
<line x1="295.9" y1="475.25" x2="301.9" y2="475.25" stroke="#333" stroke-width="1.5"/>
<text x="306.5" y="480.55" fill="#1a1a2a" stroke="#1a1a2a" stroke-width="0.3" font-family='"Liberation Sans", sans-serif' font-size="12" letter-spacing="0.5">0.003</text>
<line x1="295.9" y1="449.60" x2="301.9" y2="449.60" stroke="#333" stroke-width="1.5"/>
<text x="306.5" y="454.90" fill="#1a1a2a" stroke="#1a1a2a" stroke-width="0.3" font-family='"Liberation Sans", sans-serif' font-size="12" letter-spacing="0.5">0.004</text>
<line x1="295.9" y1="423.95" x2="301.9" y2="423.95" stroke="#333" stroke-width="1.5"/>
<text x="306.5" y="429.25" fill="#1a1a2a" stroke="#1a1a2a" stroke-width="0.3" font-family='"Liberation Sans", sans-serif' font-size="12" letter-spacing="0.5">0.005</text>
<line x1="295.9" y1="398.30" x2="301.9" y2="398.30" stroke="#333" stroke-width="1.5"/>
<text x="306.5" y="403.60" fill="#1a1a2a" stroke="#1a1a2a" stroke-width="0.3" font-family='"Liberation Sans", sans-serif' font-size="12" letter-spacing="0.5">0.006</text>
<line x1="295.9" y1="372.65" x2="301.9" y2="372.65" stroke="#333" stroke-width="1.5"/>
<text x="306.5" y="377.95" fill="#1a1a2a" stroke="#1a1a2a" stroke-width="0.3" font-family='"Liberation Sans", sans-serif' font-size="12" letter-spacing="0.5">0.007</text>
<line x1="295.9" y1="347.00" x2="301.9" y2="347.00" stroke="#333" stroke-width="1.5"/>
<text x="306.5" y="352.30" fill="#1a1a2a" stroke="#1a1a2a" stroke-width="0.3" font-family='"Liberation Sans", sans-serif' font-size="12" letter-spacing="0.5">0.008</text>
<line x1="295.9" y1="321.35" x2="301.9" y2="321.35" stroke="#333" stroke-width="1.5"/>
<text x="306.5" y="326.65" fill="#1a1a2a" stroke="#1a1a2a" stroke-width="0.3" font-family='"Liberation Sans", sans-serif' font-size="12" letter-spacing="0.5">0.009</text>
<line x1="295.9" y1="295.70" x2="301.9" y2="295.70" stroke="#333" stroke-width="1.5"/>
<text x="306.5" y="301.00" fill="#1a1a2a" stroke="#1a1a2a" stroke-width="0.3" font-family='"Liberation Sans", sans-serif' font-size="12" letter-spacing="0.5">0.01</text>
<line x1="60.60" y1="552.2" x2="60.60" y2="558.2" stroke="#333" stroke-width="1.5"/>
<text x="62.60" y="579.7" text-anchor="middle" fill="#1a1a2a" stroke="#1a1a2a" stroke-width="0.3" font-family='"Liberation Sans", sans-serif' font-size="12" letter-spacing="0.4">0.15</text>
<line x1="107.66" y1="552.2" x2="107.66" y2="558.2" stroke="#333" stroke-width="1.5"/>
<text x="109.66" y="579.7" text-anchor="middle" fill="#1a1a2a" stroke="#1a1a2a" stroke-width="0.3" font-family='"Liberation Sans", sans-serif' font-size="12" letter-spacing="0.4">0.24</text>
<line x1="154.72" y1="552.2" x2="154.72" y2="558.2" stroke="#333" stroke-width="1.5"/>
<text x="156.72" y="579.7" text-anchor="middle" fill="#1a1a2a" stroke="#1a1a2a" stroke-width="0.3" font-family='"Liberation Sans", sans-serif' font-size="12" letter-spacing="0.4">0.33</text>
<line x1="201.78" y1="552.2" x2="201.78" y2="558.2" stroke="#333" stroke-width="1.5"/>
<text x="203.78" y="579.7" text-anchor="middle" fill="#1a1a2a" stroke="#1a1a2a" stroke-width="0.3" font-family='"Liberation Sans", sans-serif' font-size="12" letter-spacing="0.4">0.42</text>
<line x1="248.84" y1="552.2" x2="248.84" y2="558.2" stroke="#333" stroke-width="1.5"/>
<text x="250.84" y="579.7" text-anchor="middle" fill="#1a1a2a" stroke="#1a1a2a" stroke-width="0.3" font-family='"Liberation Sans", sans-serif' font-size="12" letter-spacing="0.4">0.51</text>
<line x1="295.90" y1="552.2" x2="295.90" y2="558.2" stroke="#333" stroke-width="1.5"/>
<text x="297.90" y="579.7" text-anchor="middle" fill="#1a1a2a" stroke="#1a1a2a" stroke-width="0.3" font-family='"Liberation Sans", sans-serif' font-size="12" letter-spacing="0.4">0.6</text>
<text x="26" y="315.8" fill="#0a0a14" font-family='"Liberation Serif", serif' font-size="25">b)</text>
<text x="213.5" y="315" fill="#1a1a2a" stroke="#1a1a2a" stroke-width="0.3" font-family='"Liberation Sans", sans-serif' font-size="13" word-spacing="1.5">t &lt; 0</text>
<text x="213.5" y="330.5" fill="#1a1a2a" stroke="#1a1a2a" stroke-width="0.3" font-family='"Liberation Sans", sans-serif' font-size="13" word-spacing="1.5">t &gt; 0</text>
<rect x="248.2" y="305.2" width="34.5" height="8.6" fill="#88fbff" stroke="#08eefc" stroke-width="2.2"/>
<rect x="248.2" y="321.2" width="34.5" height="8.6" fill="none" stroke="#ffff10" stroke-width="2.2"/>
<text x="143.6" y="609.4" fill="#0a0a14" font-family='"Liberation Serif", serif' font-size="24">σ</text>
<text x="156.2" y="618.4" fill="#0a0a14" font-family='"Liberation Serif", serif' font-size="18">e</text>
<text x="166.3" y="609.3" fill="#0a0a14" font-family='"Liberation Serif", serif' font-size="22.8">[°C]</text>
<clipPath id="cc"><rect x="428.0" y="290.5" width="222.39999999999998" height="262.0"/></clipPath>
<g clip-path="url(#cc)">
<rect x="428.00" y="538.09" width="6.25" height="16.41" fill="#88fbff" stroke="#08eefc" stroke-width="2"/>
<rect x="440.11" y="523.68" width="5.85" height="30.82" fill="#88fbff" stroke="#08eefc" stroke-width="2"/>
<rect x="445.96" y="523.68" width="5.85" height="30.82" fill="#88fbff" stroke="#08eefc" stroke-width="2"/>
<rect x="451.81" y="509.27" width="5.85" height="45.23" fill="#88fbff" stroke="#08eefc" stroke-width="2"/>
<rect x="457.66" y="509.27" width="5.85" height="45.23" fill="#88fbff" stroke="#08eefc" stroke-width="2"/>
<rect x="463.52" y="494.86" width="5.85" height="59.64" fill="#88fbff" stroke="#08eefc" stroke-width="2"/>
<rect x="469.37" y="509.27" width="5.85" height="45.23" fill="#88fbff" stroke="#08eefc" stroke-width="2"/>
<rect x="475.22" y="466.04" width="5.85" height="88.46" fill="#88fbff" stroke="#08eefc" stroke-width="2"/>
<rect x="481.07" y="422.81" width="5.85" height="131.69" fill="#88fbff" stroke="#08eefc" stroke-width="2"/>
<rect x="486.93" y="494.86" width="5.85" height="59.64" fill="#88fbff" stroke="#08eefc" stroke-width="2"/>
<rect x="492.78" y="336.35" width="5.85" height="218.15" fill="#88fbff" stroke="#08eefc" stroke-width="2"/>
<rect x="498.63" y="451.63" width="5.85" height="102.87" fill="#88fbff" stroke="#08eefc" stroke-width="2"/>
<rect x="504.48" y="321.94" width="5.85" height="232.56" fill="#88fbff" stroke="#08eefc" stroke-width="2"/>
<rect x="510.34" y="393.99" width="5.85" height="160.51" fill="#88fbff" stroke="#08eefc" stroke-width="2"/>
<rect x="516.19" y="393.99" width="5.85" height="160.51" fill="#88fbff" stroke="#08eefc" stroke-width="2"/>
<rect x="522.04" y="422.81" width="5.85" height="131.69" fill="#88fbff" stroke="#08eefc" stroke-width="2"/>
<rect x="527.89" y="365.17" width="5.85" height="189.33" fill="#88fbff" stroke="#08eefc" stroke-width="2"/>
<rect x="533.75" y="451.63" width="5.85" height="102.87" fill="#88fbff" stroke="#08eefc" stroke-width="2"/>
<rect x="539.60" y="393.99" width="5.85" height="160.51" fill="#88fbff" stroke="#08eefc" stroke-width="2"/>
<rect x="545.45" y="480.45" width="5.85" height="74.05" fill="#88fbff" stroke="#08eefc" stroke-width="2"/>
<rect x="551.31" y="466.04" width="5.85" height="88.46" fill="#88fbff" stroke="#08eefc" stroke-width="2"/>
<rect x="557.16" y="494.86" width="5.85" height="59.64" fill="#88fbff" stroke="#08eefc" stroke-width="2"/>
<rect x="563.01" y="422.81" width="5.85" height="131.69" fill="#88fbff" stroke="#08eefc" stroke-width="2"/>
<rect x="568.86" y="509.27" width="5.85" height="45.23" fill="#88fbff" stroke="#08eefc" stroke-width="2"/>
<rect x="574.72" y="494.86" width="5.85" height="59.64" fill="#88fbff" stroke="#08eefc" stroke-width="2"/>
<rect x="580.57" y="523.68" width="5.85" height="30.82" fill="#88fbff" stroke="#08eefc" stroke-width="2"/>
<rect x="586.42" y="480.45" width="5.85" height="74.05" fill="#88fbff" stroke="#08eefc" stroke-width="2"/>
<rect x="592.27" y="538.09" width="5.85" height="16.41" fill="#88fbff" stroke="#08eefc" stroke-width="2"/>
<rect x="598.13" y="437.22" width="5.85" height="117.28" fill="#88fbff" stroke="#08eefc" stroke-width="2"/>
<rect x="603.98" y="480.45" width="5.85" height="74.05" fill="#88fbff" stroke="#08eefc" stroke-width="2"/>
<rect x="609.83" y="509.27" width="5.85" height="45.23" fill="#88fbff" stroke="#08eefc" stroke-width="2"/>
<rect x="621.54" y="538.09" width="5.85" height="16.41" fill="#88fbff" stroke="#08eefc" stroke-width="2"/>
<rect x="627.39" y="509.27" width="5.85" height="45.23" fill="#88fbff" stroke="#08eefc" stroke-width="2"/>
<rect x="633.24" y="523.68" width="5.85" height="30.82" fill="#88fbff" stroke="#08eefc" stroke-width="2"/>
<rect x="644.95" y="538.09" width="5.45" height="16.41" fill="#88fbff" stroke="#08eefc" stroke-width="2"/>
<rect x="445.96" y="537.24" width="5.85" height="18.26" fill="none" stroke="#ffff10" stroke-width="2.5" stroke-linejoin="round"/>
<rect x="451.81" y="537.24" width="5.85" height="18.26" fill="none" stroke="#ffff10" stroke-width="2.5" stroke-linejoin="round"/>
<rect x="457.66" y="537.24" width="5.85" height="18.26" fill="none" stroke="#ffff10" stroke-width="2.5" stroke-linejoin="round"/>
<rect x="469.37" y="473.00" width="5.85" height="82.50" fill="none" stroke="#ffff10" stroke-width="2.5" stroke-linejoin="round"/>
<rect x="475.22" y="456.94" width="5.85" height="98.56" fill="none" stroke="#ffff10" stroke-width="2.5" stroke-linejoin="round"/>
<rect x="481.07" y="505.12" width="5.85" height="50.38" fill="none" stroke="#ffff10" stroke-width="2.5" stroke-linejoin="round"/>
<rect x="486.93" y="521.18" width="5.85" height="34.32" fill="none" stroke="#ffff10" stroke-width="2.5" stroke-linejoin="round"/>
<rect x="492.78" y="473.00" width="5.85" height="82.50" fill="none" stroke="#ffff10" stroke-width="2.5" stroke-linejoin="round"/>
<rect x="498.63" y="424.82" width="5.85" height="130.68" fill="none" stroke="#ffff10" stroke-width="2.5" stroke-linejoin="round"/>
<rect x="504.48" y="392.70" width="5.85" height="162.80" fill="none" stroke="#ffff10" stroke-width="2.5" stroke-linejoin="round"/>
<rect x="510.34" y="473.00" width="5.85" height="82.50" fill="none" stroke="#ffff10" stroke-width="2.5" stroke-linejoin="round"/>
<rect x="516.19" y="360.58" width="5.85" height="194.92" fill="none" stroke="#ffff10" stroke-width="2.5" stroke-linejoin="round"/>
<rect x="522.04" y="328.46" width="5.85" height="227.04" fill="none" stroke="#ffff10" stroke-width="2.5" stroke-linejoin="round"/>
<rect x="527.89" y="392.70" width="5.85" height="162.80" fill="none" stroke="#ffff10" stroke-width="2.5" stroke-linejoin="round"/>
<rect x="533.75" y="328.46" width="5.85" height="227.04" fill="none" stroke="#ffff10" stroke-width="2.5" stroke-linejoin="round"/>
<rect x="539.60" y="328.46" width="5.85" height="227.04" fill="none" stroke="#ffff10" stroke-width="2.5" stroke-linejoin="round"/>
<rect x="545.45" y="376.64" width="5.85" height="178.86" fill="none" stroke="#ffff10" stroke-width="2.5" stroke-linejoin="round"/>
<rect x="551.31" y="424.82" width="5.85" height="130.68" fill="none" stroke="#ffff10" stroke-width="2.5" stroke-linejoin="round"/>
<rect x="557.16" y="392.70" width="5.85" height="162.80" fill="none" stroke="#ffff10" stroke-width="2.5" stroke-linejoin="round"/>
<rect x="563.01" y="424.82" width="5.85" height="130.68" fill="none" stroke="#ffff10" stroke-width="2.5" stroke-linejoin="round"/>
<rect x="568.86" y="440.88" width="5.85" height="114.62" fill="none" stroke="#ffff10" stroke-width="2.5" stroke-linejoin="round"/>
<rect x="574.72" y="473.00" width="5.85" height="82.50" fill="none" stroke="#ffff10" stroke-width="2.5" stroke-linejoin="round"/>
<rect x="580.57" y="408.76" width="5.85" height="146.74" fill="none" stroke="#ffff10" stroke-width="2.5" stroke-linejoin="round"/>
<rect x="586.42" y="473.00" width="5.85" height="82.50" fill="none" stroke="#ffff10" stroke-width="2.5" stroke-linejoin="round"/>
<rect x="592.27" y="521.18" width="5.85" height="34.32" fill="none" stroke="#ffff10" stroke-width="2.5" stroke-linejoin="round"/>
<rect x="598.13" y="505.12" width="5.85" height="50.38" fill="none" stroke="#ffff10" stroke-width="2.5" stroke-linejoin="round"/>
<rect x="603.98" y="521.18" width="5.85" height="34.32" fill="none" stroke="#ffff10" stroke-width="2.5" stroke-linejoin="round"/>
<rect x="609.83" y="521.18" width="5.85" height="34.32" fill="none" stroke="#ffff10" stroke-width="2.5" stroke-linejoin="round"/>
<rect x="615.68" y="489.06" width="5.85" height="66.44" fill="none" stroke="#ffff10" stroke-width="2.5" stroke-linejoin="round"/>
<rect x="627.39" y="537.24" width="5.85" height="18.26" fill="none" stroke="#ffff10" stroke-width="2.5" stroke-linejoin="round"/>
<rect x="633.24" y="537.24" width="5.85" height="18.26" fill="none" stroke="#ffff10" stroke-width="2.5" stroke-linejoin="round"/>
<rect x="639.09" y="537.24" width="5.85" height="18.26" fill="none" stroke="#ffff10" stroke-width="2.5" stroke-linejoin="round"/>
</g>
<rect x="428.0" y="293.5" width="222.40" height="259.00" fill="none" stroke="#222" stroke-width="1.5"/>
<line x1="422.0" y1="552.50" x2="428.0" y2="552.50" stroke="#333" stroke-width="1.5"/>
<text x="417.6" y="557.10" text-anchor="end" fill="#1a1a2a" stroke="#1a1a2a" stroke-width="0.3" font-family='"Liberation Sans", sans-serif' font-size="10.3" letter-spacing="0.1">0</text>
<line x1="422.0" y1="520.12" x2="428.0" y2="520.12" stroke="#333" stroke-width="1.5"/>
<text x="417.6" y="524.73" text-anchor="end" fill="#1a1a2a" stroke="#1a1a2a" stroke-width="0.3" font-family='"Liberation Sans", sans-serif' font-size="10.3" letter-spacing="0.1">5e-005</text>
<line x1="422.0" y1="487.75" x2="428.0" y2="487.75" stroke="#333" stroke-width="1.5"/>
<text x="417.6" y="492.35" text-anchor="end" fill="#1a1a2a" stroke="#1a1a2a" stroke-width="0.3" font-family='"Liberation Sans", sans-serif' font-size="10.3" letter-spacing="0.1">0.0001</text>
<line x1="422.0" y1="455.38" x2="428.0" y2="455.38" stroke="#333" stroke-width="1.5"/>
<text x="417.6" y="459.98" text-anchor="end" fill="#1a1a2a" stroke="#1a1a2a" stroke-width="0.3" font-family='"Liberation Sans", sans-serif' font-size="10.3" letter-spacing="0.1">0.00015</text>
<line x1="422.0" y1="423.00" x2="428.0" y2="423.00" stroke="#333" stroke-width="1.5"/>
<text x="417.6" y="427.60" text-anchor="end" fill="#1a1a2a" stroke="#1a1a2a" stroke-width="0.3" font-family='"Liberation Sans", sans-serif' font-size="10.3" letter-spacing="0.1">0.0002</text>
<line x1="422.0" y1="390.62" x2="428.0" y2="390.62" stroke="#333" stroke-width="1.5"/>
<text x="417.6" y="395.23" text-anchor="end" fill="#1a1a2a" stroke="#1a1a2a" stroke-width="0.3" font-family='"Liberation Sans", sans-serif' font-size="10.3" letter-spacing="0.1">0.00025</text>
<line x1="422.0" y1="358.25" x2="428.0" y2="358.25" stroke="#333" stroke-width="1.5"/>
<text x="417.6" y="362.85" text-anchor="end" fill="#1a1a2a" stroke="#1a1a2a" stroke-width="0.3" font-family='"Liberation Sans", sans-serif' font-size="10.3" letter-spacing="0.1">0.0003</text>
<line x1="422.0" y1="325.88" x2="428.0" y2="325.88" stroke="#333" stroke-width="1.5"/>
<text x="417.6" y="330.48" text-anchor="end" fill="#1a1a2a" stroke="#1a1a2a" stroke-width="0.3" font-family='"Liberation Sans", sans-serif' font-size="10.3" letter-spacing="0.1">0.00035</text>
<line x1="422.0" y1="293.50" x2="428.0" y2="293.50" stroke="#333" stroke-width="1.5"/>
<text x="417.6" y="298.10" text-anchor="end" fill="#1a1a2a" stroke="#1a1a2a" stroke-width="0.3" font-family='"Liberation Sans", sans-serif' font-size="10.3" letter-spacing="0.1">0.0004</text>
<line x1="428.00" y1="552.5" x2="428.00" y2="558.5" stroke="#333" stroke-width="1.5"/>
<text x="429.70" y="575" text-anchor="middle" fill="#1a1a2a" stroke="#1a1a2a" stroke-width="0.3" font-family='"Liberation Sans", sans-serif' font-size="10.3">20</text>
<line x1="472.48" y1="552.5" x2="472.48" y2="558.5" stroke="#333" stroke-width="1.5"/>
<text x="474.18" y="575" text-anchor="middle" fill="#1a1a2a" stroke="#1a1a2a" stroke-width="0.3" font-family='"Liberation Sans", sans-serif' font-size="10.3">96</text>
<line x1="516.96" y1="552.5" x2="516.96" y2="558.5" stroke="#333" stroke-width="1.5"/>
<text x="518.66" y="575" text-anchor="middle" fill="#1a1a2a" stroke="#1a1a2a" stroke-width="0.3" font-family='"Liberation Sans", sans-serif' font-size="10.3">172</text>
<line x1="561.44" y1="552.5" x2="561.44" y2="558.5" stroke="#333" stroke-width="1.5"/>
<text x="563.14" y="575" text-anchor="middle" fill="#1a1a2a" stroke="#1a1a2a" stroke-width="0.3" font-family='"Liberation Sans", sans-serif' font-size="10.3">248</text>
<line x1="605.92" y1="552.5" x2="605.92" y2="558.5" stroke="#333" stroke-width="1.5"/>
<text x="607.62" y="575" text-anchor="middle" fill="#1a1a2a" stroke="#1a1a2a" stroke-width="0.3" font-family='"Liberation Sans", sans-serif' font-size="10.3">324</text>
<line x1="650.40" y1="552.5" x2="650.40" y2="558.5" stroke="#333" stroke-width="1.5"/>
<text x="652.10" y="575" text-anchor="middle" fill="#1a1a2a" stroke="#1a1a2a" stroke-width="0.3" font-family='"Liberation Sans", sans-serif' font-size="10.3">400</text>
<text x="352.6" y="311.6" fill="#0a0a14" font-family='"Liberation Serif", serif' font-size="24">c)</text>
<text transform="translate(364.6,463.8) rotate(-90)" fill="#0a0a14" font-family='"Liberation Serif", serif' font-size="24.2">frequency</text>
<text x="571" y="314" fill="#1a1a2a" stroke="#1a1a2a" stroke-width="0.3" font-family='"Liberation Sans", sans-serif' font-size="13" word-spacing="1.5">t &lt; 0</text>
<text x="571" y="330" fill="#1a1a2a" stroke="#1a1a2a" stroke-width="0.3" font-family='"Liberation Sans", sans-serif' font-size="13" word-spacing="1.5">t &gt; 0</text>
<rect x="606" y="304.2" width="34.5" height="8.6" fill="#88fbff" stroke="#08eefc" stroke-width="2.2"/>
<rect x="606" y="320.2" width="34.5" height="8.6" fill="none" stroke="#ffff10" stroke-width="2.2"/>
<text transform="translate(510.3,606.2) scale(1.2,0.92)" fill="#0a0a14" font-family='"Liberation Serif", serif' font-size="25" stroke="#0a0a14" stroke-width="0.25">τ</text>
<text x="523.6" y="611.6" fill="#0a0a14" font-family='"Liberation Serif", serif' font-size="21">c</text>
<text x="538.6" y="606.6" fill="#0a0a14" font-family='"Liberation Serif", serif' font-size="23">[s]</text>
</svg>
</body></html>
